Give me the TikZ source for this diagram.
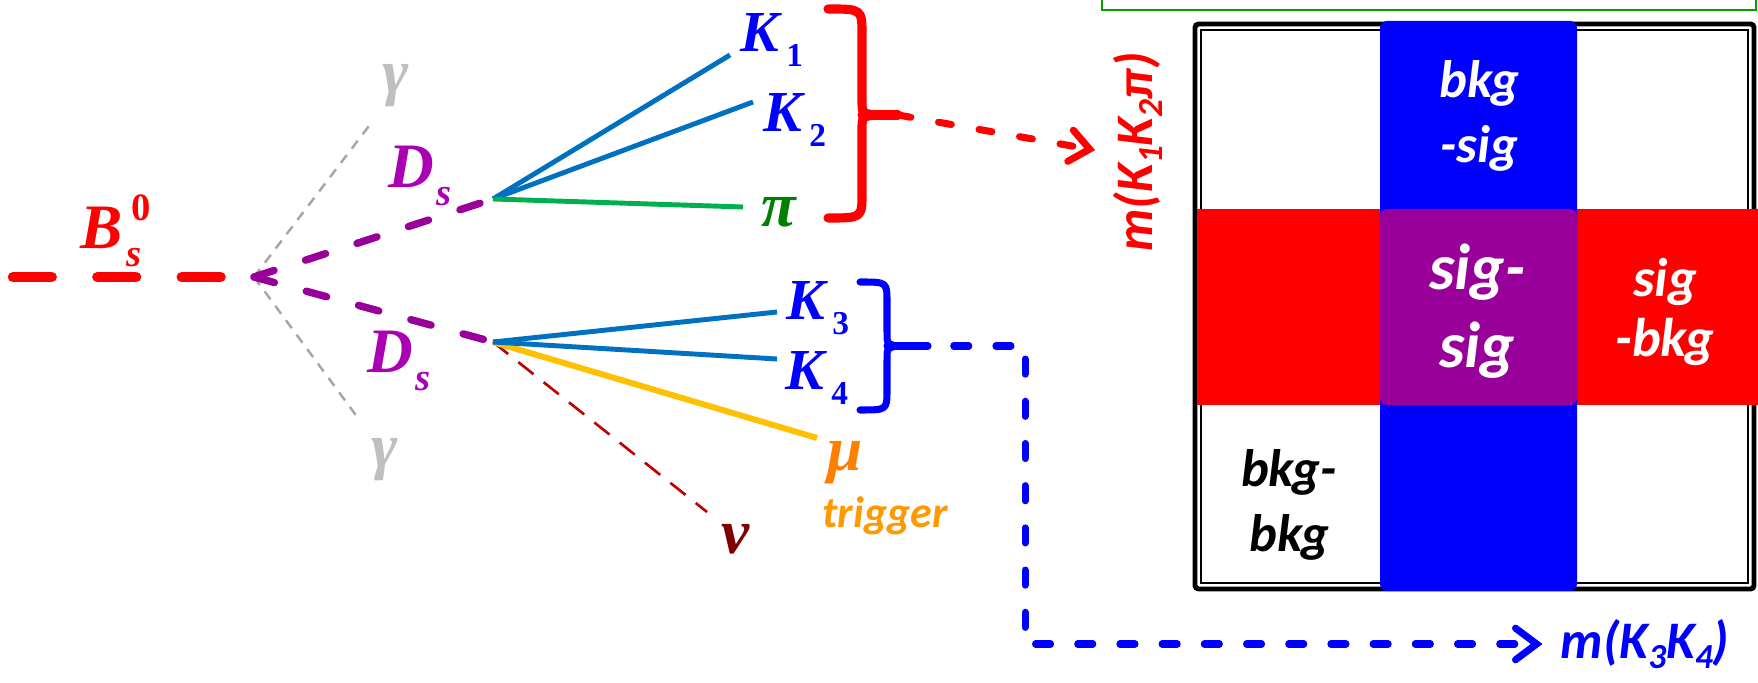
\documentclass[tikz,border=0pt]{standalone}
\usepackage{fontspec}
\setmainfont{Liberation Serif}
\newfontfamily\carl{Carlito}
\usetikzlibrary{arrows.meta}

\definecolor{bsred}{RGB}{255,0,0}
\definecolor{dspurple}{RGB}{153,0,153}
\definecolor{dslabel}{RGB}{170,0,180}
\definecolor{kline}{RGB}{0,112,192}
\definecolor{kblue}{RGB}{0,0,255}
\definecolor{piline}{RGB}{0,176,80}
\definecolor{pilabel}{RGB}{0,128,0}
\definecolor{muline}{RGB}{255,192,0}
\definecolor{mulabel}{RGB}{255,128,0}
\definecolor{trig}{RGB}{255,153,0}
\definecolor{nuline}{RGB}{192,0,0}
\definecolor{nulabel}{RGB}{128,0,0}
\definecolor{gamlabel}{RGB}{191,191,191}
\definecolor{gamline}{RGB}{166,166,166}
\definecolor{cellpurple}{RGB}{153,0,153}
\definecolor{framegreen}{RGB}{0,160,0}

\newcommand{\ksub}[2]{#1\kern2pt\raisebox{-4pt}{\fontsize{9.5}{9.5}\selectfont\upshape #2}}
\newcommand{\dsub}[1]{#1\kern0.5pt\raisebox{-5pt}{\fontsize{11}{11}\selectfont s}}
\newcommand{\msub}[1]{\raisebox{-3pt}{\fontsize{10}{10}\selectfont #1}}

\begin{document}
\begin{tikzpicture}[x=0.01cm, y=-0.01cm,
  ptcl/.style={font=\fontsize{16.5}{16.5}\selectfont\bfseries\itshape, inner sep=0pt},
  bigp/.style={font=\fontsize{18}{18}\selectfont\bfseries\itshape, inner sep=0pt},
  bsline/.style={bsred, line width=3pt, line cap=round, dash pattern=on 11pt off 13pt},
  dsline/.style={dspurple, line width=2.1pt, line cap=round, dash pattern=on 6pt off 9.4pt},
  photon/.style={gamline, line width=0.7pt, dash pattern=on 2.8pt off 2.3pt},
  kaon/.style={kline, line width=1.4pt},
  pion/.style={piline, line width=1.4pt},
  muon/.style={muline, line width=1.7pt},
  neutrino/.style={nuline, line width=0.75pt, dash pattern=on 5.5pt off 3.7pt},
  rbrace/.style={bsred, line width=2.6pt, line cap=round, line join=round},
  bbrace/.style={kblue, line width=2pt, line cap=round, line join=round},
  rarr/.style={bsred, line width=2pt, line cap=round, dash pattern=on 3.7pt off 8pt,
               -{Straight Barb[length=5.5pt,width=9pt,line cap=round]}},
  barr/.style={kblue, line width=2pt, line cap=round, dash pattern=on 4.3pt off 7.7pt,
               -{Straight Barb[length=6pt,width=9pt,line cap=round]}},
  cell/.style={align=center, inner sep=0pt},
  axlbl/.style={font=\carl\bfseries\itshape\fontsize{15}{15}\selectfont, inner sep=2pt}
]
  \useasboundingbox (0,0) rectangle (1758,683);
  \clip (0,0) rectangle (1758,683);

  % decay vertices
  \coordinate (vtx) at (254,277);
  \coordinate (Dup) at (493,199);
  \coordinate (Ddn) at (493,342);
  \coordinate (bsin) at (13,277);
  \coordinate (gue) at (372,122);
  \coordinate (gde) at (358,418);
  \coordinate (k1e) at (730,55);
  \coordinate (k2e) at (753,102);
  \coordinate (pie) at (743,207);
  \coordinate (k3e) at (777,312);
  \coordinate (k4e) at (777,359);
  \coordinate (mue) at (817,438);
  \coordinate (nue) at (707,512);

  \draw[photon] (vtx) -- (gue);
  \draw[photon] (vtx) -- (gde);
  \draw[dsline] (vtx) -- (Dup);
  \draw[dsline] (vtx) -- (Ddn);
  \draw[bsline] (bsin) -- (vtx);

  \draw[kaon] (Dup) -- (k1e);
  \draw[kaon] (Dup) -- (k2e);
  \draw[pion] (Dup) -- (pie);
  \draw[neutrino] (Ddn) -- (nue);
  \draw[muon] (Ddn) -- (mue);
  \draw[kaon] (Ddn) -- (k3e);
  \draw[kaon] (Ddn) -- (k4e);

  % labels
  \node[bigp, bsred, anchor=base west] (bs) at (80,249)
    {B\kern1pt\rlap{\kern1.5pt\raisebox{8pt}{\fontsize{11}{11}\selectfont\upshape 0}}\raisebox{-5pt}{\fontsize{11}{11}\selectfont s}};
  \node[bigp, dslabel, anchor=base west] (dsu) at (388,188) {\dsub{D}};
  \node[bigp, dslabel, anchor=base west] (dsd) at (367,373) {\dsub{D}};
  \node[bigp, gamlabel] (gu) at (396,86) {γ};
  \node[bigp, gamlabel] (gd) at (385,460) {γ};
  \node[ptcl, kblue, anchor=base west] (k1) at (740,52) {\ksub{K}{1}};
  \node[ptcl, kblue, anchor=base west] (k2) at (763,132) {\ksub{K}{2}};
  \node[bigp, pilabel] (pi) at (779,212) {π};
  \node[ptcl, kblue, anchor=base west] (k3) at (786,320) {\ksub{K}{3}};
  \node[ptcl, kblue, anchor=base west] (k4) at (785,390) {\ksub{K}{4}};
  \node[bigp, mulabel] (mu) at (845,463) {μ};
  \node[cell, trig, font=\carl\bfseries\itshape\fontsize{12.5}{12.5}\selectfont] (trg) at (885,516) {trigger};
  \node[bigp, nulabel] (nu) at (736,539) {ν};

  % braces
  \coordinate (rbr) at (898,115);
  \coordinate (bbr) at (928,346);
  \draw[rbrace] (828,9) .. controls (862,9) .. (862,35) -- (862,100)
    .. controls (862,113) .. (874,115) .. controls (862,117) .. (862,130)
    -- (862,193) .. controls (862,218) .. (828,218);
  \draw[rbrace] (862,115) -- (rbr);
  \draw[bbrace] (860,282) .. controls (887,282) .. (887,302) -- (887,332)
    .. controls (887,344) .. (897,346) .. controls (887,348) .. (887,360)
    -- (887,390) .. controls (887,410) .. (860,410);
  \draw[bbrace] (887,346) -- (bbr);

  % 2D mass plane
  \draw[framegreen, line width=0.8pt] (1102,-40) rectangle (1756,10);
  \draw[line width=1.4pt, rounded corners=1pt] (1195,24) rectangle (1754,589);
  \draw[line width=0.5pt] (1201,30) rectangle (1748,583);
  \fill[bsred] (1197,209) rectangle (1758,405);
  \fill[kblue, rounded corners=2pt] (1380,21) rectangle (1577,591);
  \fill[cellpurple, rounded corners=2pt] (1380,209) rectangle (1577,405);

  \node[cell, white, font=\carl\bfseries\itshape\fontsize{15}{18.5}\selectfont] (bkgsig) at (1479,116) {bkg\\-sig};
  \node[cell, white, font=\carl\bfseries\itshape\fontsize{18.5}{22}\selectfont] (sigsig) at (1477,311) {sig-\\sig};
  \node[cell, white, font=\carl\bfseries\itshape\fontsize{15.5}{17}\selectfont] (sigbkg) at (1665,312) {sig\\-bkg};
  \node[cell, black, font=\carl\bfseries\itshape\fontsize{15}{18.5}\selectfont] (bkgbkg) at (1289,505) {bkg-\\bkg};

  \node[axlbl, bsred, rotate=90] (ylab) at (1138,152) {m(K\msub{1}K\msub{2}π)};
  \node[axlbl, kblue, anchor=west] (xlab) at (1553,644) {m(K\msub{3}K\msub{4})};

  % projections
  \coordinate (bend) at (1025,346);
  \draw[rarr, shorten >=3pt] (rbr) -- (ylab.north);
  \draw[barr, dash phase=4.7pt, shorten >=3pt] (bbr) -- (bend) |- (xlab.west);
\end{tikzpicture}
\end{document}
